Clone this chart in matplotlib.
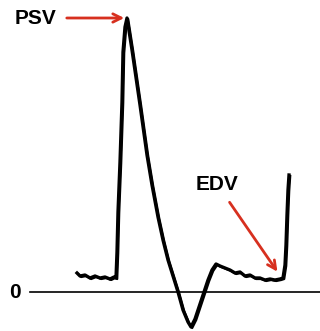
import numpy as np
import matplotlib.pyplot as plt

# Doppler waveform, one cardiac cycle (time in px units, velocity relative to baseline)
time = [77, 80, 85, 90, 95, 100, 105, 110, 114, 116,
        117, 118, 120, 122, 123, 125, 127,
        132, 140, 147, 152, 158, 163, 168, 173, 178, 183, 188,
        191, 195, 200, 204, 208, 212, 216, 220, 225, 230, 235, 240, 245, 250, 255,
        260, 265, 270, 275, 280, 283,
        285, 286, 287, 288, 289]
velocity = [19, 16, 17, 14, 16, 14, 15, 13, 15, 14,
            40, 80, 130, 190, 240, 265, 274,
            242, 187, 137, 107, 75, 52, 32, 16, 0, -18, -30,
            -35, -27, -12, 0, 12, 22, 28, 26, 24, 22, 19, 20, 16, 17, 14,
            14, 12, 13, 12, 13, 14,
            27, 47, 77, 102, 117]

labels = ['PSV', 'EDV', '0']
psv_idx = 16     # peak systolic point
edv_idx = 48     # end diastolic point

red = '#d7301f'

fig = plt.figure(figsize=(3.2, 3.31), dpi=100)
ax = fig.add_axes([0, 0, 1, 1])
ax.set_xlim(0, 320)
ax.set_ylim(-39, 292)
ax.axis('off')

# baseline
ax.plot([30, 320], [0, 0], color='black', lw=1.2)

# waveform (two slightly offset traces like overlaid cycles)
ax.plot(time, velocity, color='black', lw=2.4, solid_joinstyle='round')
ax.plot(np.array(time) + 1.2, np.array(velocity) - 1, color='black', lw=1.6,
        solid_joinstyle='round')

font = dict(family='Liberation Sans', weight='bold', fontsize=15)

# PSV label and arrow
px, pv = time[psv_idx], velocity[psv_idx]
ax.annotate('', xy=(px, pv), xytext=(64, pv),
            arrowprops=dict(arrowstyle='->,head_length=0.6,head_width=0.3',
                            color=red, lw=2))
ax.text(35, pv, labels[0], ha='center', va='center', **font)

# EDV label and arrow
ex, ev = time[edv_idx], velocity[edv_idx]
ax.annotate('', xy=(ex - 4, ev + 4), xytext=(228, 92),
            arrowprops=dict(arrowstyle='->,head_length=0.6,head_width=0.3',
                            color=red, lw=2))
ax.text(217, 107, labels[1], ha='center', va='center', **font)

# zero label
ax.text(15, 0, labels[2], ha='center', va='center', **font)

fig.savefig('out.png', dpi=100)
